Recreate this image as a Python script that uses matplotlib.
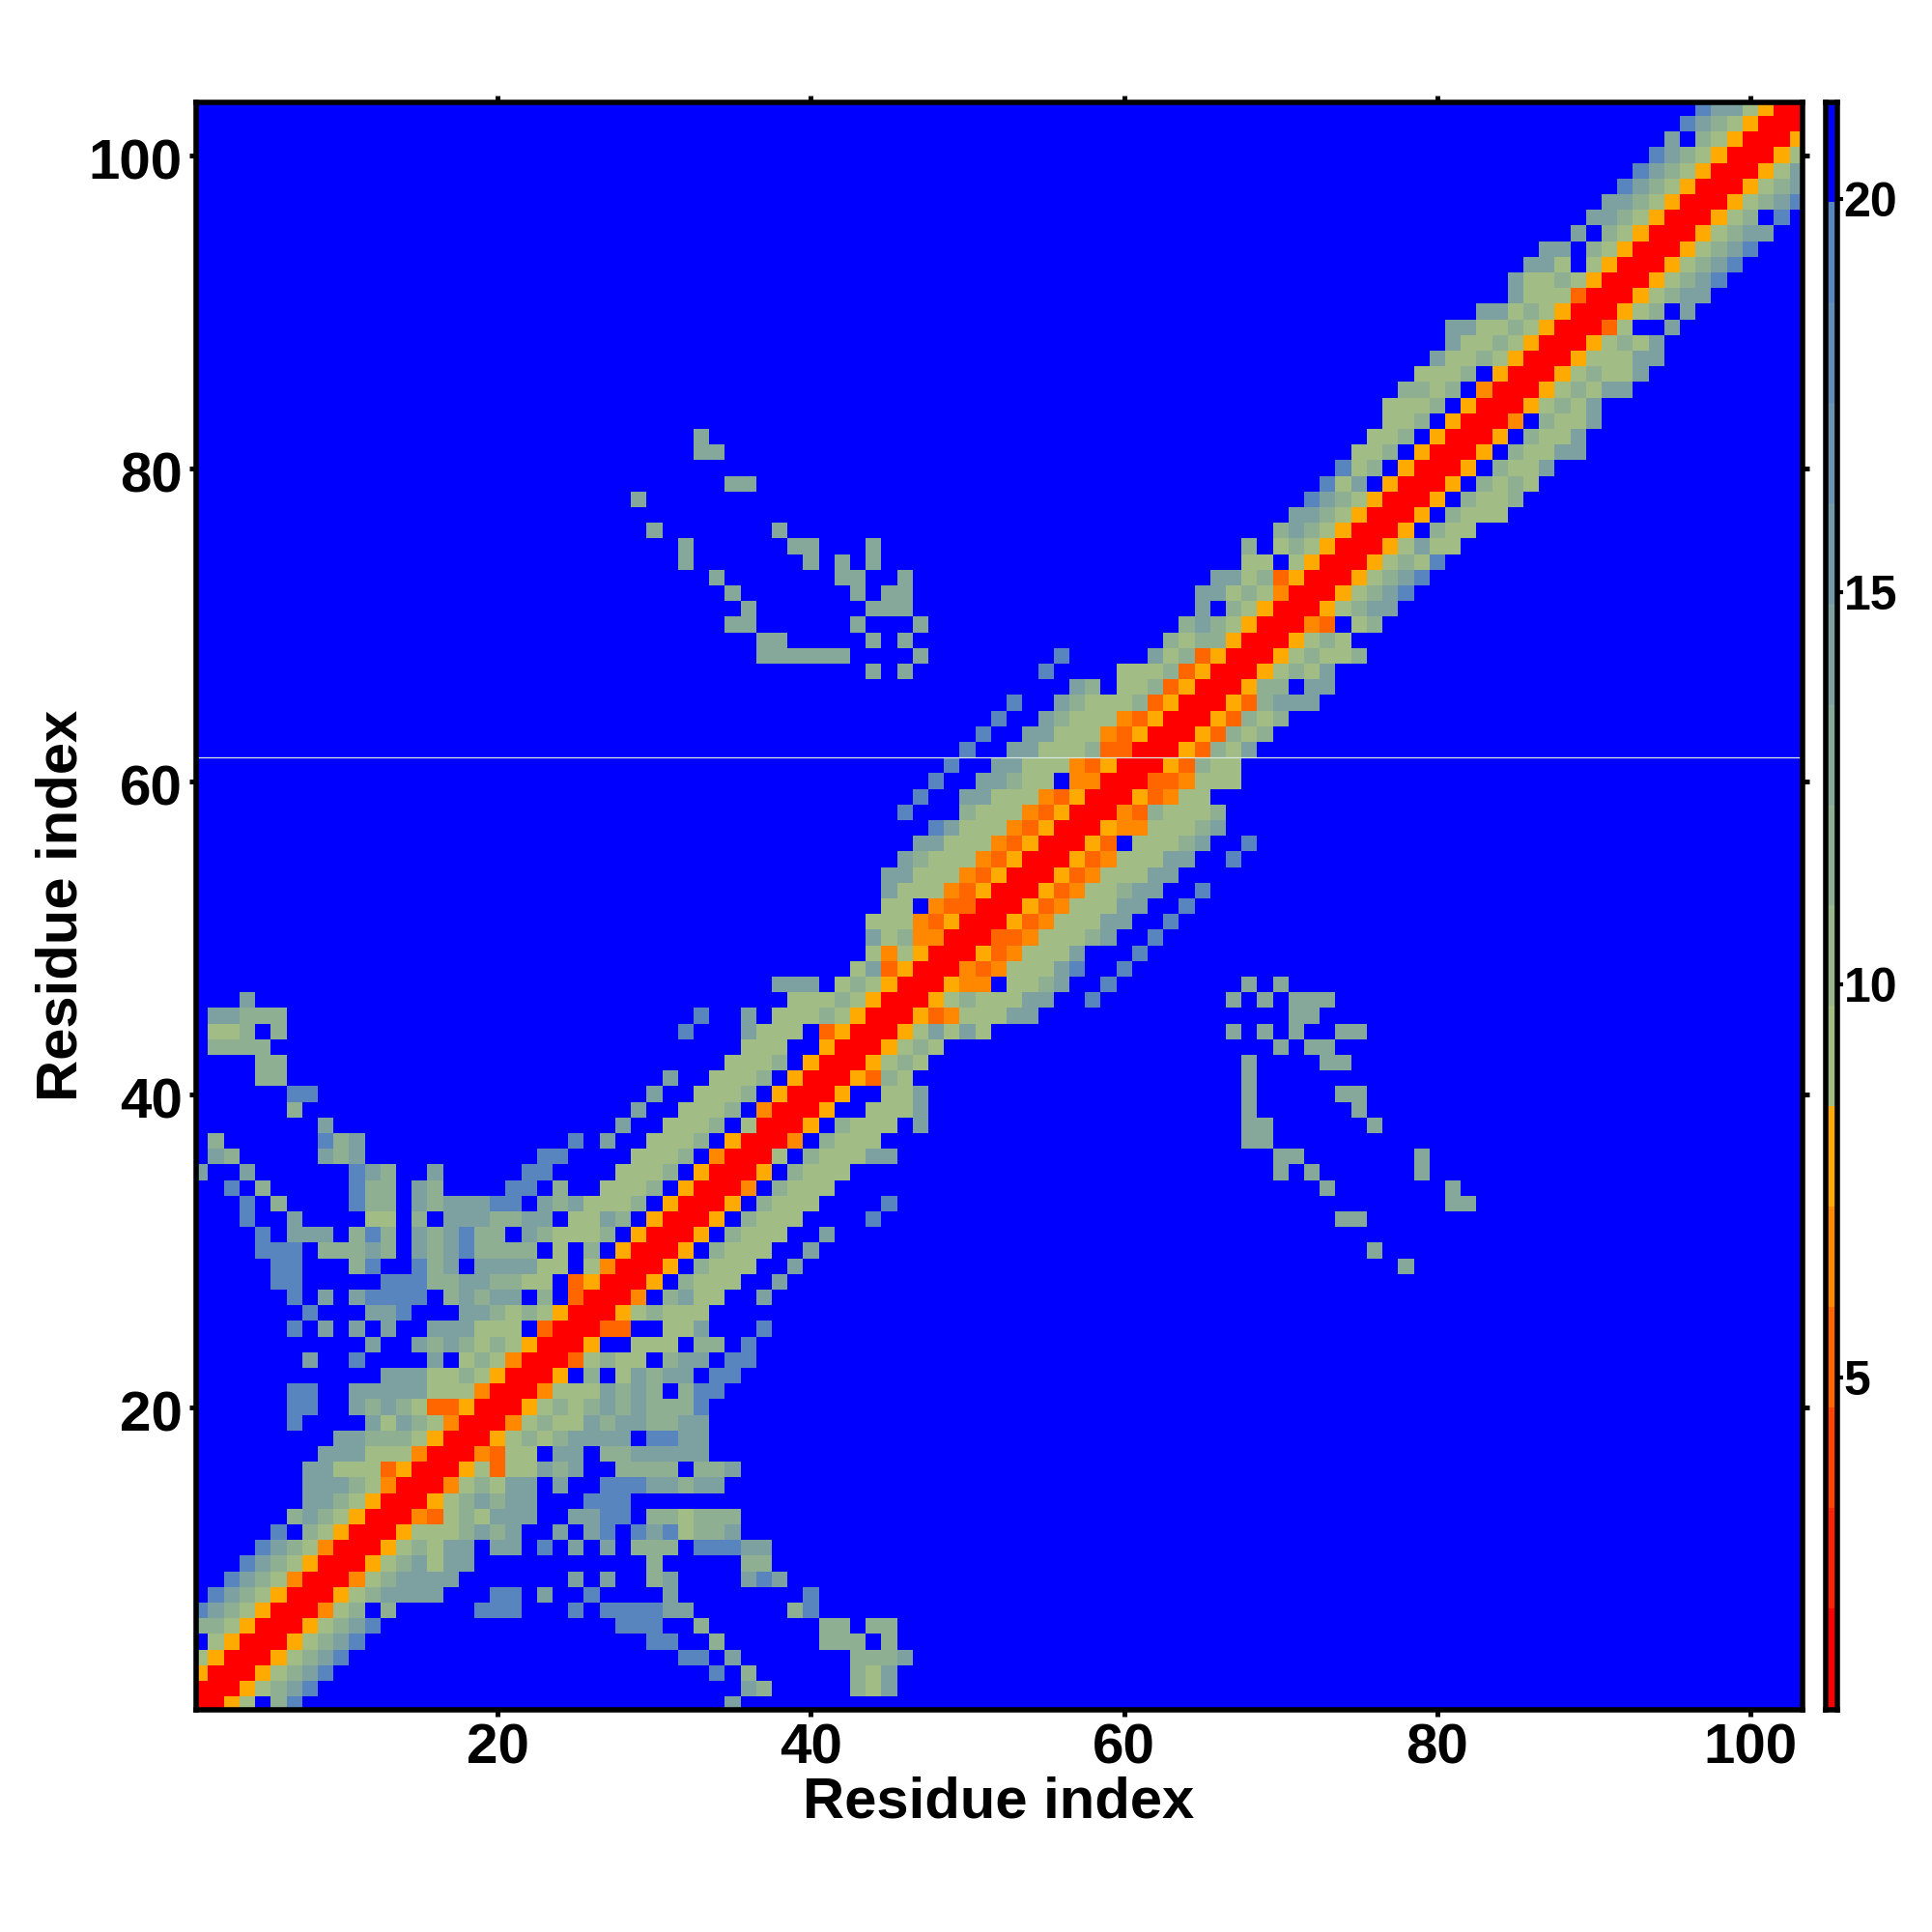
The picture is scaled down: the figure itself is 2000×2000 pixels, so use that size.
import numpy as np
import matplotlib
matplotlib.use("Agg")
import matplotlib.pyplot as plt
from matplotlib.colors import ListedColormap, BoundaryNorm
from matplotlib.transforms import ScaledTranslation

plt.rcParams['font.family'] = ['Liberation Sans', 'DejaVu Sans']
plt.rcParams['font.weight'] = 'bold'

# cell codes, value = distance level mid point
code_values = {'R': 1.41, 'O': 5.25, 'o': 6.53, 'y': 7.81, 'a': 9.09,
               'b': 11.65, 'm': 12.93, 'c': 14.21, 'd': 19.33, '.': 20.6}

level_edges = [0.77, 2.05, 3.33, 4.61, 5.89, 7.17, 8.45, 9.73, 11.01, 12.29,
               13.57, 14.85, 16.13, 17.41, 18.69, 19.97, 21.24]
level_colors = ['#FF0000', '#FF2200', '#FF4400', '#FF6600', '#FF8800', '#FFAA00',
                '#A2BC85', '#98B58C', '#8FAF93', '#86A89A', '#7DA1A1', '#749AA8',
                '#6B93AF', '#628CB6', '#5985BE', '#0000FF']

n_res = 103

# upper triangle, row number -> (first column, codes); the rest of a row is blue
contact_rows = {
    1: [(1, 'RRya.bd'), (35, 'c')],
    2: [(2, 'RRyabcd'), (36, 'cb'), (43, 'bac')],
    3: [(3, 'RRyabcd'), (34, 'd'), (36, 'b'), (43, 'bac')],
    4: [(4, 'RRyabcd'), (32, 'dd'), (35, 'c'), (43, 'bbbc')],
    5: [(5, 'RRyabcd'), (30, 'dd'), (34, 'b'), (41, 'bbb.b')],
    6: [(6, 'RRyabcd'), (28, 'ddd'), (33, 'b'), (41, 'bb'), (44, 'bb')],
    7: [(7, 'RRoab.b'), (19, 'ddd'), (25, 'd'), (27, 'ddddcc'), (39, 'bd')],
    8: [(8, 'RRyabcccc'), (20, 'dd'), (23, 'c'), (26, 'd'), (31, 'c'), (40, 'd')],
    9: [(9, 'RRoabcccc'), (25, 'c'), (27, 'c'), (30, 'bc'), (36, 'cdc')],
    10: [(10, 'RRyabcacc'), (30, 'b'), (36, 'bb')],
    11: [(11, 'RRyabacc.cc'), (23, 'd'), (25, 'c'), (27, 'c'), (29, 'bbb'), (33, 'dddcc')],
    12: [(12, 'RRyaaabcbc'), (24, 'c'), (26, 'cd'), (29, 'dcd'), (32, 'abbc')],
    13: [(13, 'RRoOabaccc'), (25, 'ccdd'), (30, 'bb'), (32, 'abbb')],
    14: [(14, 'RRyabcbcc'), (26, 'ddd')],
    15: [(15, 'RRoabacc'), (24, 'c'), (27, 'ddd'), (30, 'ccbcc')],
    16: [(16, 'RRyaOaacbc'), (28, 'bbbb'), (33, 'bbc')],
    17: [(17, 'RRoOaa'), (24, 'cc'), (27, 'bbccccc')],
    18: [(18, 'RRyababcccc.ddcc')],
    19: [(19, 'RRoabaacbccbbcc')],
    20: [(20, 'RRyababcbcbbbd')],
    21: [(21, 'RRoaaacbcb.bdd')],
    22: [(22, 'RRy.b.acbcc.dd')],
    23: [(23, 'RROabaa.bcc.dd')],
    24: [(24, 'RRy..aaa.bb.d')],
    25: [(25, 'RROO..aac...d')],
    26: [(26, 'RRyabaaa')],
    27: [(27, 'RRo.bcaa'), (37, 'c')],
    28: [(28, 'RRy.baaa'), (38, 'c')],
    29: [(29, 'RRy.baaa'), (39, 'c'), (78, 'm')],
    30: [(30, 'RRy.baaa'), (40, 'c'), (76, 'm')],
    31: [(31, 'RRy.baaa'), (41, 'c')],
    32: [(32, 'RRy.baaa'), (44, 'd'), (74, 'mm')],
    33: [(33, 'RRy.baaa'), (45, 'd'), (81, 'mm')],
    34: [(34, 'RRo.baaa'), (73, 'm'), (81, 'm')],
    35: [(35, 'RRy.baaa'), (70, 'm'), (72, 'm'), (79, 'm')],
    36: [(36, 'RRa.baaacc'), (70, 'mm'), (79, 'm')],
    37: [(37, 'RRo.baaa'), (68, 'mm')],
    38: [(38, 'RRy.baaa.c'), (68, 'mm'), (76, 'm')],
    39: [(39, 'RRy..aaac'), (68, 'm'), (75, 'm')],
    40: [(40, 'RRy..aac'), (68, 'm'), (74, 'mm')],
    41: [(41, 'RRyOba'), (68, 'm')],
    42: [(42, 'RRyaba'), (68, 'm'), (73, 'mm')],
    43: [(43, 'RRyaba'), (70, 'm'), (72, 'mm')],
    44: [(44, 'RRyacaca'), (67, 'm'), (69, 'm'), (71, 'm'), (74, 'mm')],
    45: [(45, 'RRyOoaaacc'), (71, 'mm')],
    46: [(46, 'RRyabaaacc'), (58, 'd'), (67, 'm'), (69, 'm'), (71, 'mmm')],
    47: [(47, 'RRyoo.aabc'), (59, 'd'), (68, 'm'), (70, 'm')],
    48: [(48, 'RRoOoaaacd'), (60, 'd')],
    49: [(49, 'RRyOoaaac'), (61, 'd')],
    50: [(50, 'RROOoaaabc'), (62, 'd')],
    51: [(51, 'RRyOoaaacc'), (63, 'd')],
    52: [(52, 'RRyOoaaacc'), (64, 'd')],
    53: [(53, 'RRyOoaabcc'), (65, 'd')],
    54: [(54, 'RRyOoaaacc')],
    55: [(55, 'RRyOoaaacc'), (67, 'd')],
    56: [(56, 'RRyO.aaabc'), (68, 'd')],
    57: [(57, 'RRyooaaabc')],
    58: [(58, 'RRoObaaab')],
    59: [(59, 'RRyOoaa')],
    60: [(60, 'RROOoaaa')],
    61: [(61, 'RRyObaa')],
    62: [(62, 'RRyObac')],
    63: [(63, 'RRyObab')],
    64: [(64, 'RRyObab')],
    65: [(65, 'RRyObccc')],
    66: [(66, 'RRybb.cc')],
    67: [(67, 'RRyabac')],
    68: [(68, 'RRyabaab')],
    69: [(69, 'RRyaba')],
    70: [(70, 'RRoO.ab')],
    71: [(71, 'RRyabcc')],
    72: [(72, 'RRyabcd')],
    73: [(73, 'RRyabcd')],
    74: [(74, 'RRyabad')],
    75: [(75, 'RRyacaa')],
    76: [(76, 'RRy.baa')],
    77: [(77, 'RRy.baaa')],
    78: [(78, 'RRy.baab')],
    79: [(79, 'RRy.baba')],
    80: [(80, 'RRy.baac')],
    81: [(81, 'RRy.baacc')],
    82: [(82, 'RRy.baac')],
    83: [(83, 'RRo.baac')],
    84: [(84, 'RRyabac')],
    85: [(85, 'RRyabacc')],
    86: [(86, 'RRyabaac')],
    87: [(87, 'RRyaaacc')],
    88: [(88, 'RRyabac')],
    89: [(89, 'RROa..c')],
    90: [(90, 'RRyab.c')],
    91: [(91, 'RRyabcc')],
    92: [(92, 'RRyabcd')],
    93: [(93, 'RRyabcd')],
    94: [(94, 'RRyabcd')],
    95: [(95, 'RRyabcc')],
    96: [(96, 'RRyab.d')],
    97: [(97, 'RRyabcd')],
    98: [(98, 'RRyabc')],
    99: [(99, 'RRyac')],
    100: [(100, 'RRya')],
    101: [(101, 'RRy')],
    102: [(102, 'RR')],
    103: [(103, 'R')],
}

x_ticks = [20, 40, 60, 80, 100]
y_ticks = [20, 40, 60, 80, 100]
bar_ticks = [5, 10, 15, 20]

# fill the matrix, distances are the same both ways
dist = np.full((n_res, n_res), code_values['.'])
for row, segments in contact_rows.items():
    for first, codes in segments:
        for k, code in enumerate(codes):
            dist[row - 1, first - 1 + k] = code_values[code]
            dist[first - 1 + k, row - 1] = code_values[code]

cmap = ListedColormap(level_colors)
norm = BoundaryNorm(level_edges, cmap.N)

fig = plt.figure(figsize=(20, 20), dpi=100)
W = 2000.0


def box(left, top, right, bottom):
    return [left / W, 1 - bottom / W, (right - left) / W, (bottom - top) / W]


ax = fig.add_axes(box(202.5, 105.5, 1865.5, 1769.5))
edges = np.arange(0.5, n_res + 1.5)
ax.pcolormesh(edges, edges, dist, cmap=cmap, norm=norm, antialiased=False)
ax.axhline(61.5, color='#d8e8e0', lw=0.9)
ax.set_xlim(0.7, 103.3)
ax.set_ylim(0.68, 103.4)
ax.set_xticks(x_ticks)
ax.set_yticks(y_ticks)
ax.tick_params(axis='both', which='major', direction='out', length=5, width=3.6,
               top=True, right=True, labelsize=42, pad=5)
ax.set_xlabel('Residue index', fontsize=43, fontweight='bold', labelpad=1)
ax.set_ylabel('Residue index', fontsize=43, fontweight='bold', labelpad=0)
for s in ax.spines.values():
    s.set_linewidth(4.0)
for t in ax.get_xticklines() + ax.get_yticklines():
    t.set_solid_capstyle('round')

# y labels sit a little below their ticks in the original
nudge = ScaledTranslation(0, -3.5 / 100, fig.dpi_scale_trans)
for lab in ax.get_yticklabels():
    lab.set_transform(lab.get_transform() + nudge)

cax = fig.add_axes(box(1889.5, 105.5, 1901.5, 1769.5))
bar_edges = np.array(level_edges)
bar_vals = (bar_edges[:-1] + bar_edges[1:]) / 2
cax.pcolormesh([0, 1], bar_edges, bar_vals.reshape(-1, 1), cmap=cmap, norm=norm, antialiased=False)
cax.set_xlim(0, 1)
cax.set_ylim(level_edges[0], level_edges[-1])
cax.set_xticks([])
cax.set_yticks(bar_ticks)
cax.yaxis.tick_right()
cax.tick_params(axis='y', direction='out', length=4, width=3.0, labelsize=36, pad=1)
for s in cax.spines.values():
    s.set_linewidth(4.0)

fig.savefig('out.png', dpi=100, facecolor='white')
